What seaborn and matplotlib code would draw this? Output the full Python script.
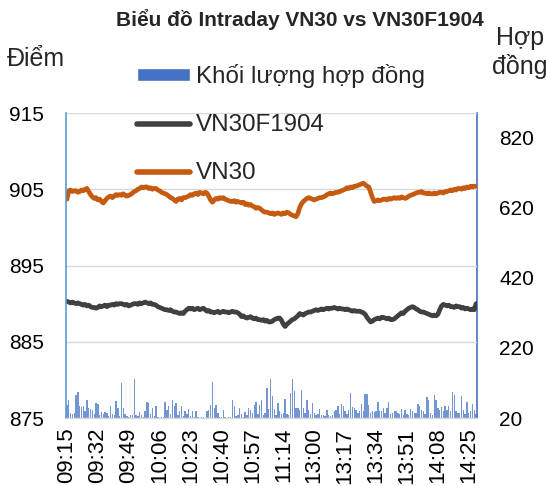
import numpy as np
import pandas as pd
import matplotlib
matplotlib.use('Agg')
import matplotlib.pyplot as plt
import seaborn as sns
from matplotlib.patches import Patch
from matplotlib.lines import Line2D

sns.set_style('white')
plt.rcParams['font.family'] = ['Liberation Sans', 'DejaVu Sans']

# trading minutes: morning session + afternoon session
morning = pd.date_range('2019-04-01 09:15', '2019-04-01 11:30', freq='min')
afternoon = pd.date_range('2019-04-01 13:00', '2019-04-01 14:29', freq='min')
times = list(morning.strftime('%H:%M')) + list(afternoon.strftime('%H:%M'))

vn30 = [
    903.7, 904.8, 904.9, 904.7, 904.8, 904.8, 904.6, 904.7, 904.9, 904.8,
    905.0, 905.1, 904.7, 904.3, 904.0, 903.8, 903.9, 903.6, 903.7, 903.4,
    903.2, 903.5, 903.8, 904.0, 904.1, 903.9, 904.1, 904.3, 904.2, 904.3,
    904.2, 904.4, 904.2, 904.1, 904.2, 904.3, 904.5, 904.7, 904.8, 905.0,
    905.1, 905.3, 905.2, 905.3, 905.3, 905.1, 905.2, 905.0, 905.1, 905.1,
    904.9, 904.8, 904.6, 904.5, 904.4, 904.3, 904.1, 903.9, 903.8, 903.6,
    903.4, 903.7, 903.8, 903.6, 903.9, 903.9, 904.0, 904.1, 904.3, 904.2,
    904.4, 904.5, 904.3, 904.6, 904.5, 904.4, 904.6, 904.5, 904.1, 903.6,
    903.3, 903.6, 903.8, 903.7, 903.9, 903.8, 903.9, 903.7, 903.6, 903.5,
    903.4, 903.4, 903.5, 903.3, 903.4, 903.3, 903.2, 903.3, 903.0, 903.1,
    902.9, 903.0, 902.8, 902.7, 902.5, 902.6, 902.5, 902.3, 902.1, 902.0,
    902.0, 901.9, 901.8, 901.9, 901.7, 901.8, 901.9, 901.8, 901.7, 901.9,
    901.8, 902.0, 901.9, 901.7, 901.6, 901.5, 901.4, 901.8, 902.6, 903.1,
    903.4, 903.6, 903.8, 903.9, 903.8, 903.7, 903.6, 903.7, 903.8, 903.9,
    903.9, 904.0, 904.1, 904.3, 904.4, 904.5, 904.4, 904.5, 904.6, 904.6,
    904.7, 904.8, 904.9, 905.0, 905.2, 905.1, 905.3, 905.2, 905.4, 905.4,
    905.5, 905.6, 905.7, 905.8, 905.6, 905.4, 905.3, 904.6, 903.9, 903.4,
    903.5, 903.6, 903.5, 903.6, 903.7, 903.7, 903.6, 903.8, 903.7, 903.8,
    903.9, 903.8, 903.9, 903.8, 904.0, 903.9, 903.8, 903.9, 904.1, 904.2,
    904.3, 904.4, 904.5, 904.6, 904.6, 904.7, 904.5, 904.5, 904.4, 904.5,
    904.4, 904.4, 904.5, 904.4, 904.5, 904.6, 904.6, 904.5, 904.7, 904.7,
    904.8, 904.9, 904.8, 905.0, 904.9, 905.1, 905.1, 905.0, 905.2, 905.1,
    905.3, 905.2, 905.4, 905.3, 905.4, 905.4,
]

vn30f = [
    890.3, 890.2, 890.1, 890.2, 890.1, 890.0, 890.1, 890.0, 889.9, 889.8,
    889.9, 889.7, 889.8, 889.6, 889.5, 889.5, 889.4, 889.5, 889.7, 889.6,
    889.7, 889.8, 889.6, 889.8, 889.8, 889.9, 889.8, 890.0, 889.9, 890.0,
    890.0, 889.9, 889.8, 889.9, 889.7, 889.8, 889.9, 890.0, 890.0, 889.9,
    890.1, 890.0, 890.1, 890.2, 890.1, 890.0, 890.1, 889.9, 889.9, 889.8,
    889.6, 889.5, 889.4, 889.3, 889.2, 889.2, 889.1, 889.2, 889.0, 888.9,
    888.9, 888.8, 888.7, 888.8, 888.7, 889.0, 889.2, 889.4, 889.3, 889.4,
    889.2, 889.3, 889.4, 889.2, 889.3, 889.4, 889.2, 889.0, 889.1, 888.9,
    888.9, 888.8, 888.9, 889.0, 888.8, 888.9, 889.0, 888.9, 888.9, 888.8,
    888.9, 889.0, 888.9, 888.9, 888.8, 888.6, 888.3, 888.4, 888.2, 888.1,
    888.2, 888.3, 888.1, 888.0, 888.1, 887.9, 887.9, 887.8, 887.9, 887.7,
    887.8, 887.6, 887.6, 887.7, 887.9, 888.0, 888.1, 888.1, 887.8, 887.3,
    887.0, 887.3, 887.5, 887.7, 887.9, 888.0, 888.2, 888.4, 888.7, 888.6,
    888.5, 888.7, 888.8, 888.9, 888.9, 889.0, 889.1, 889.2, 889.1, 889.2,
    889.3, 889.2, 889.3, 889.4, 889.3, 889.4, 889.4, 889.5, 889.4, 889.3,
    889.4, 889.3, 889.3, 889.2, 889.3, 889.2, 889.1, 889.0, 889.1, 889.0,
    889.0, 889.0, 888.9, 888.8, 888.6, 888.2, 887.9, 887.6, 887.7, 887.9,
    888.0, 888.1, 888.0, 888.2, 888.2, 888.1, 888.0, 888.1, 887.9, 887.9,
    888.0, 888.2, 888.4, 888.6, 888.8, 888.7, 889.0, 889.2, 889.4, 889.5,
    889.6, 889.5, 889.3, 889.2, 889.0, 888.9, 888.9, 888.8, 888.7, 888.6,
    888.5, 888.4, 888.5, 888.4, 888.6, 889.2, 889.7, 889.9, 889.8, 889.7,
    889.8, 889.6, 889.6, 889.5, 889.7, 889.6, 889.6, 889.4, 889.5, 889.3,
    889.4, 889.3, 889.2, 889.3, 889.2, 890.0,
]

volume = [
    58, 72, 34, 30, 34, 86, 94, 54, 50, 54,
    40, 72, 49, 45, 44, 30, 63, 60, 28, 36,
    32, 36, 34, 25, 55, 30, 28, 68, 49, 26,
    120, 49, 30, 26, 24, 29, 28, 130, 29, 25,
    36, 28, 24, 39, 67, 63, 30, 49, 26, 53,
    22, 21, 23, 22, 66, 44, 53, 30, 70, 53,
    63, 28, 39, 55, 26, 39, 30, 45, 26, 39,
    24, 39, 22, 21, 23, 22, 21, 39, 44, 58,
    122, 49, 58, 34, 22, 23, 44, 22, 21, 23,
    22, 72, 53, 26, 28, 49, 30, 24, 36, 28,
    49, 44, 34, 58, 67, 30, 58, 72, 28, 34,
    106, 46, 131, 82, 46, 28, 63, 39, 30, 34,
    74, 30, 29, 91, 130, 98, 48, 48, 44, 99,
    48, 34, 70, 44, 30, 63, 34, 29, 30, 46,
    29, 29, 26, 44, 28, 25, 29, 39, 44, 53,
    30, 60, 53, 39, 30, 44, 91, 51, 48, 44,
    34, 39, 60, 39, 89, 89, 58, 34, 39, 36,
    39, 65, 39, 41, 48, 34, 48, 67, 30, 34,
    39, 39, 34, 30, 46, 29, 44, 30, 29, 46,
    39, 34, 34, 60, 53, 44, 39, 30, 79, 70,
    34, 28, 87, 72, 48, 44, 50, 39, 53, 44,
    53, 39, 94, 87, 39, 34, 34, 84, 44, 30,
    65, 34, 39, 60, 44, 30,
]

left_ticks = [875, 885, 895, 905, 915]
right_ticks = [20, 220, 420, 620, 820]

fig = plt.figure(figsize=(5.47, 4.86), dpi=100)
ax = fig.add_axes([66 / 547, 1 - 418 / 486, (477 - 66) / 547, (418 - 113) / 486])
ax2 = ax.twinx()

x = np.arange(len(times))

# volume bars on the secondary axis
sns.barplot(x=x, y=volume, ax=ax2, color='#4472C4', width=0.75, alpha=0.75,
            saturation=1, native_scale=True, linewidth=0)
ax2.set_ylim(20, 891)
ax2.set_yticks(right_ticks)

# price lines on the primary axis
sns.lineplot(x=x, y=vn30f, ax=ax, color='#404040', linewidth=3.4)
sns.lineplot(x=x, y=vn30, ax=ax, color='#C55A11', linewidth=3.4)
ax.set_ylim(875, 915)
ax.set_yticks(left_ticks)

ax.set_zorder(ax2.get_zorder() + 1)
ax.patch.set_visible(False)

ax.set_xlim(-0.5, len(times) - 0.5)
tick_pos = list(range(0, len(times), 17))
ax.set_xticks(tick_pos)
ax.set_xticklabels([times[i] for i in tick_pos], rotation=90)
ax.set_xlabel('')
ax.set_ylabel('')
ax2.set_xlabel('')
ax2.set_ylabel('')

ax.yaxis.grid(True, color='#D9D9D9', linewidth=1)
ax.xaxis.grid(False)

for a in (ax, ax2):
    a.spines['top'].set_visible(False)
    a.spines['bottom'].set_color('#D9D9D9')
ax.spines['right'].set_visible(False)
ax2.spines['left'].set_visible(False)
ax.spines['left'].set_color('#5B9BD5')
ax.spines['left'].set_linewidth(1.2)
ax2.spines['right'].set_color('#4472C4')
ax2.spines['right'].set_linewidth(1.2)

ax.tick_params(axis='y', length=0, pad=16, labelsize=15, labelcolor='black')
ax2.tick_params(axis='y', length=0, pad=16, labelsize=15, labelcolor='black')
ax.tick_params(axis='x', length=0, pad=7, labelsize=16, labelcolor='black')

fig.text(300 / 547, 1 - 20 / 486, 'Biểu đồ Intraday VN30 vs VN30F1904',
         ha='center', va='center', fontsize=15, fontweight='bold')
fig.text(7 / 547, 1 - 66 / 486, 'Điểm', ha='left', va='baseline', fontsize=18)
fig.text(520 / 547, 1 - 45 / 486, 'Hợp', ha='center', va='baseline', fontsize=18)
fig.text(520 / 547, 1 - 74 / 486, 'đồng', ha='center', va='baseline', fontsize=18)

handles = [
    Patch(facecolor='#4472C4'),
    Line2D([], [], color='#404040', linewidth=4),
    Line2D([], [], color='#C55A11', linewidth=4),
]
labels = ['Khối lượng hợp đồng', 'VN30F1904', 'VN30']
fig.legend(handles, labels, loc='upper left', bbox_to_anchor=(137 / 547, 1 - 64 / 486),
           bbox_transform=fig.transFigure, frameon=False, fontsize=17.4,
           handlelength=2.2, handleheight=0.45, handletextpad=0.25,
           labelspacing=1.08, borderpad=0, borderaxespad=0)

fig.savefig('out.png', dpi=100)
